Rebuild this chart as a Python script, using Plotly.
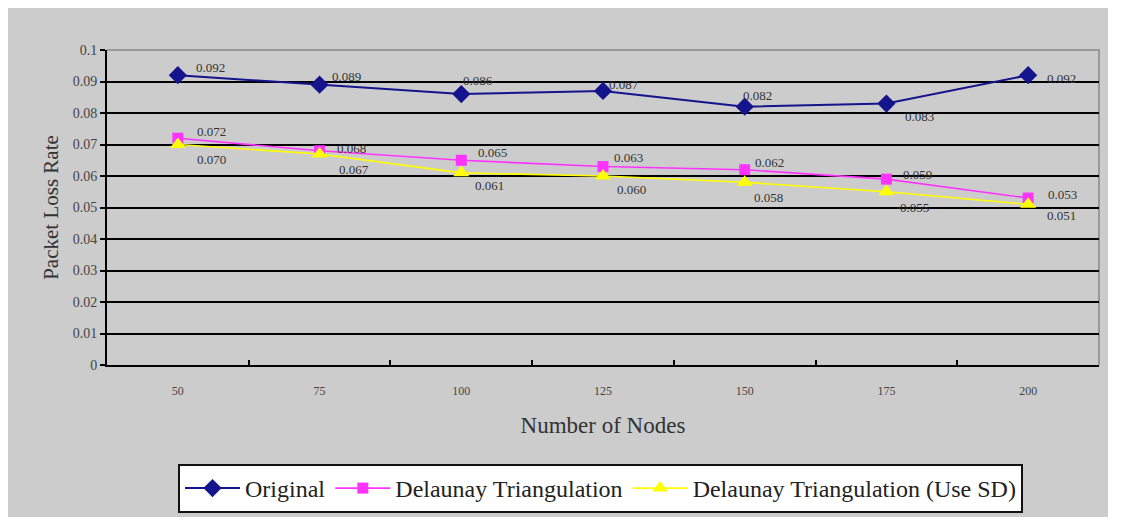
import plotly.graph_objects as go

# --- data -------------------------------------------------------------------
nodes = ["50", "75", "100", "125", "150", "175", "200"]
original = [0.092, 0.089, 0.086, 0.087, 0.082, 0.083, 0.092]
delaunay = [0.072, 0.068, 0.065, 0.063, 0.062, 0.059, 0.053]
delaunay_sd = [0.070, 0.067, 0.061, 0.060, 0.058, 0.055, 0.051]

# label offsets (px, right / up) for each value label
orig_dx = [16, 10, 0, 4, -4, 17, 17]
orig_dy = [8, 8, 14, 6, 11, -13, -3]
dela_dx = [17, 15, 15, 9, 8, 15, 18]
dela_dy = [7, 2, 8, 9, 7, 5, 4]
sd_dx = [17, 17, 12, 12, 7, 12, 17]
sd_dy = [-15, -16, -13, -13, -15, -16, -11]

SERIF = '"Liberation Serif", "Times New Roman", serif'
BG = "#cccccc"
TXT = "#333333"

# page body has an 8px margin, so the figure sits at (8, 8)
OFF = 8
W, H = 1122 - OFF, 517 - OFF
L, R, T = 107 - OFF, 23, 50 - OFF
B = H - (365 - OFF)
PW, PH = W - L - R, H - T - B


def px(x):
    return (x - OFF - L) / PW


def py(y):
    return (H - B - (y - OFF)) / PH


fig = go.Figure()

series = [
    ("Original", original, "#14148c", "diamond", 14, 2, orig_dx, orig_dy),
    ("Delaunay Triangulation", delaunay, "#ff33ff", "square", 11, 1.6, dela_dx, dela_dy),
    ("Delaunay Triangulation (Use SD)", delaunay_sd, "#ffff00", "triangle-up", 14, 1.6, sd_dx, sd_dy),
]

for name, vals, color, sym, msize, lw, dxs, dys in series:
    fig.add_trace(go.Scatter(
        x=nodes, y=vals, name=name, mode="lines+markers",
        line=dict(color=color, width=lw),
        marker=dict(symbol=sym, size=msize, color=color),
        hoverinfo="x+y"))
    # category axis: annotations addressed by category index
    for i, (yv, dx, dy) in enumerate(zip(vals, dxs, dys)):
        fig.add_annotation(x=i, y=yv, text=f"{yv:.3f}", showarrow=False,
                           xanchor="left", yanchor="middle", xshift=dx, yshift=dy,
                           font=dict(family=SERIF, size=13, color=TXT))

# grey panel behind everything
fig.add_shape(type="rect", xref="paper", yref="paper", layer="below",
              x0=px(5), x1=px(1108), y0=py(517), y1=py(8),
              fillcolor=BG, line=dict(width=0))
# grey frame on top and right of plot area
fig.add_shape(type="path", xref="paper", yref="paper", layer="below",
              path="M 0,1 L 1,1 L 1,0", line=dict(color="#999999", width=2))

fig.update_layout(
    width=W, height=H,
    margin=dict(l=L, r=R, t=T, b=B, autoexpand=False),
    paper_bgcolor="white", plot_bgcolor=BG,
    font=dict(family=SERIF, color=TXT),
    showlegend=True,
    legend=dict(orientation="h", x=px(178), y=py(464), xanchor="left", yanchor="top",
                bgcolor="white", bordercolor="#111111", borderwidth=2,
                font=dict(family=SERIF, size=24, color="#222222"),
                itemwidth=55, tracegroupgap=0),
)

fig.update_xaxes(
    type="category", range=[-0.5, len(nodes) - 0.5],
    tickson="boundaries", ticks="inside", ticklen=5,
    tickcolor="black", tickwidth=2, showgrid=False,
    showline=True, linecolor="black", linewidth=2,
    tickfont=dict(family=SERIF, size=12, color="#444444"),
    ticklabelstandoff=14,
    title=dict(text="Number of Nodes", font=dict(family=SERIF, size=23, color=TXT),
               standoff=19))

fig.update_yaxes(
    range=[0, 0.1], dtick=0.01, tick0=0,
    ticks="outside", ticklen=5, tickcolor="black", tickwidth=2,
    showgrid=True, gridcolor="black", gridwidth=2,
    showline=True, linecolor="black", linewidth=2, zeroline=False,
    tickfont=dict(family=SERIF, size=14, color="#444444"),
    title=dict(text="Packet Loss Rate", font=dict(family=SERIF, size=21, color=TXT),
               standoff=8))

fig.write_html("out.html")
